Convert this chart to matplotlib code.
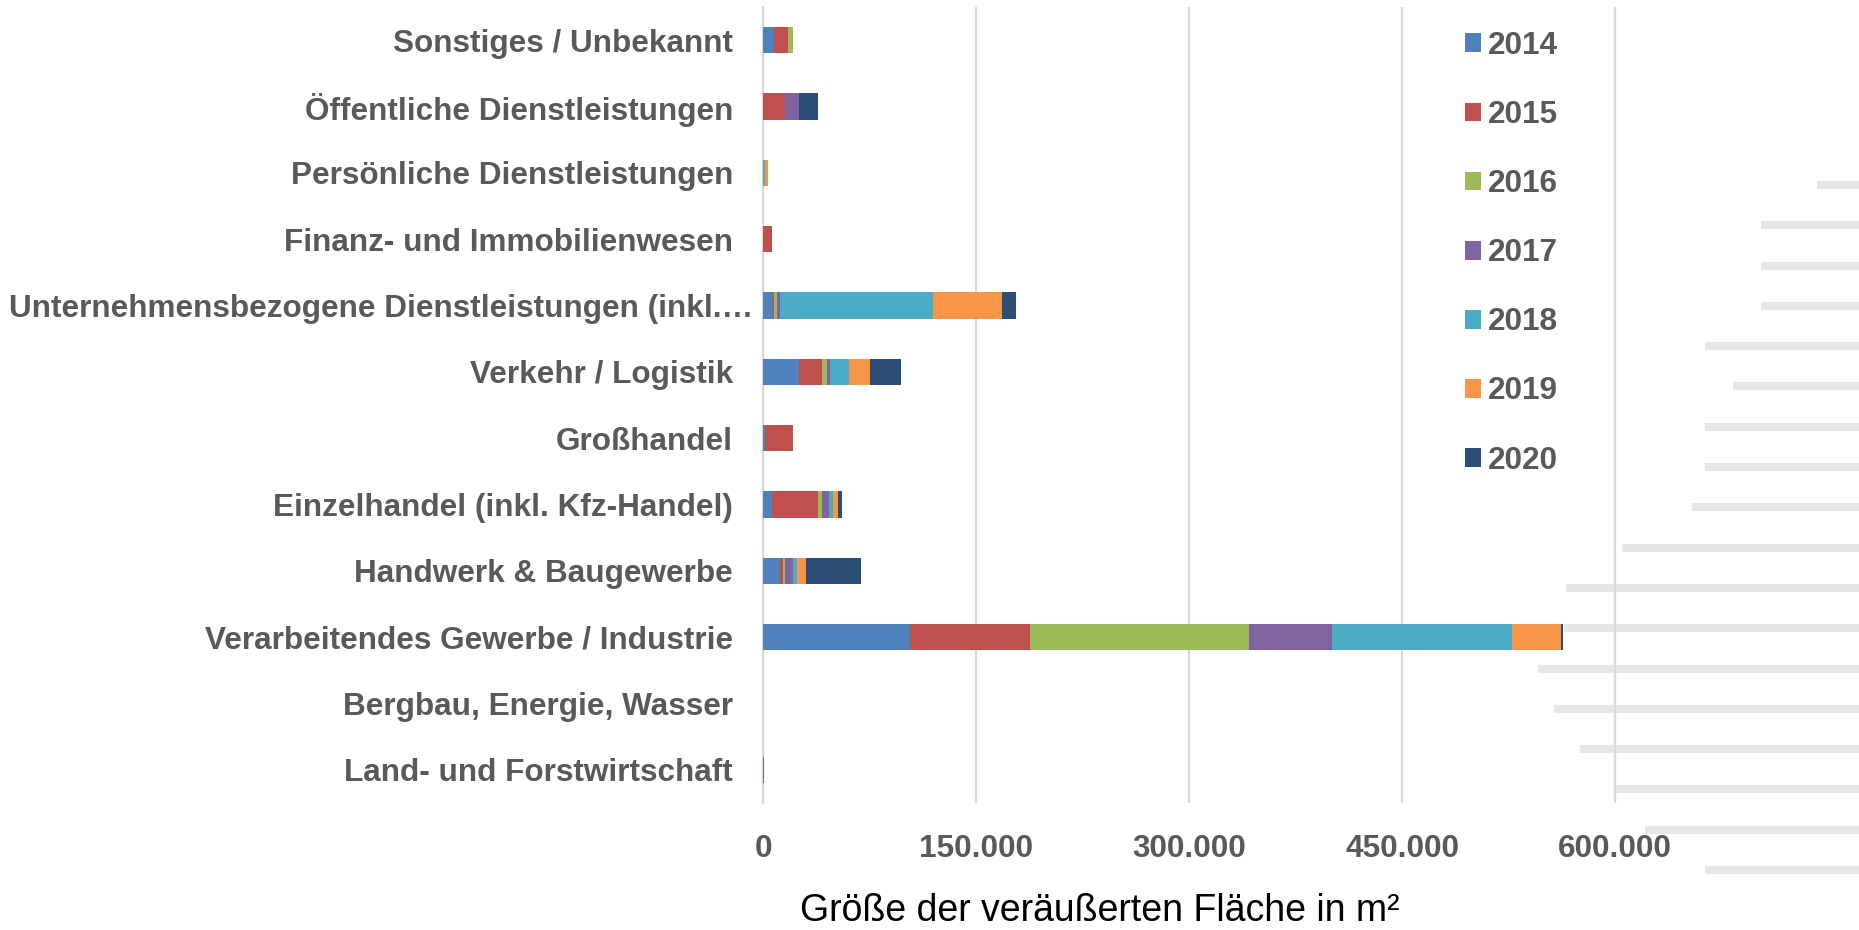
import matplotlib
matplotlib.use('Agg')
import matplotlib.pyplot as plt
from matplotlib.lines import Line2D
from matplotlib.ticker import FuncFormatter
from matplotlib.transforms import blended_transform_factory
import numpy as np

categories = ['Land- und Forstwirtschaft', 'Bergbau, Energie, Wasser',
              'Verarbeitendes Gewerbe / Industrie', 'Handwerk & Baugewerbe',
              'Einzelhandel (inkl. Kfz-Handel)', 'Großhandel', 'Verkehr / Logistik',
              'Unternehmensbezogene Dienstleistungen (inkl.…', 'Finanz- und Immobilienwesen',
              'Persönliche Dienstleistungen', 'Öffentliche Dienstleistungen', 'Sonstiges / Unbekannt']
years = ['2014', '2015', '2016', '2017', '2018', '2019', '2020']
v2014 = [0, 0, 103200, 12000, 6300, 1600, 25300, 7000, 0, 0, 0, 7500]
v2015 = [0, 0, 84900, 2100, 32200, 19500, 16000, 900, 6600, 0, 15300, 10000]
v2016 = [0, 0, 154100, 1600, 3000, 0, 3500, 2100, 0, 0, 0, 3300]
v2017 = [700, 0, 58200, 5400, 4700, 0, 2300, 2100, 0, 0, 10300, 0]
v2018 = [0, 0, 127200, 2800, 3000, 0, 13800, 107500, 0, 1200, 0, 0]
v2019 = [0, 0, 34700, 6300, 3300, 0, 14100, 49000, 0, 2100, 0, 0]
v2020 = [0, 0, 1200, 39000, 3300, 0, 22100, 9900, 0, 0, 12900, 0]
series = [v2014, v2015, v2016, v2017, v2018, v2019, v2020]
colors = ['#4F81BD', '#C0504D', '#9BBB59', '#8064A2', '#4BACC6', '#F79646', '#2C4D75']

# faint stray stripes on the right of the original image (pixel rows / start columns)
stripe_y = [185, 225, 266, 306, 346, 386, 427, 467, 507, 548, 588, 628, 669, 709, 749, 789, 830, 870]
stripe_x0 = [1817, 1761, 1761, 1761, 1705, 1733, 1705, 1705, 1692, 1622, 1566, 1564, 1538, 1554,
             1580, 1615, 1645, 1705]

W, H = 1859, 930
plt.rcParams['font.family'] = ['Liberation Sans', 'DejaVu Sans']
grey = '#595959'

fig = plt.figure(figsize=(W / 100, H / 100), dpi=100, facecolor='white')
ax = fig.add_axes([763 / W, 1 - 803 / H, 923 / W, 796 / H])
ax.patch.set_facecolor('none')

for y, x0 in zip(stripe_y, stripe_x0):
    fig.add_artist(Line2D([x0 / W, 1], [1 - y / H, 1 - y / H], transform=fig.transFigure,
                          color='#E7E7E7', lw=5.8, solid_capstyle='butt', zorder=-5))

ypos = np.arange(len(categories))
left = np.zeros(len(categories))
for year, vals, col in zip(years, series, colors):
    ax.barh(ypos, vals, left=left, height=0.4, color=col, label=year, linewidth=0, zorder=3)
    left += np.array(vals)

ax.set_xlim(0, 650000)
ax.set_ylim(-0.5, len(categories) - 0.5)
ax.set_xticks([0, 150000, 300000, 450000, 600000])
ax.xaxis.set_major_formatter(FuncFormatter(lambda x, p: f'{x:,.0f}'.replace(',', '.')))

# the truncated long label starts at the left edge like in the original, the rest are right aligned
long_label = 'Unternehmensbezogene Dienstleistungen (inkl.…'
ax.set_yticks(ypos)
ax.set_yticklabels(['' if c == long_label else c for c in categories])
trans = blended_transform_factory(fig.transFigure, ax.transData)
ax.text(9 / W, categories.index(long_label), long_label, transform=trans, ha='left',
        va='center_baseline', fontsize=22.7, fontweight='bold', color=grey)

ax.tick_params(axis='y', length=0, pad=21.6, labelsize=22.7, labelcolor=grey)
ax.tick_params(axis='x', length=0, pad=22, labelsize=22.7, labelcolor=grey)
for lab in ax.get_xticklabels() + ax.get_yticklabels():
    lab.set_fontweight('bold')

ax.grid(axis='x', color='#D9D9D9', lw=1.6, zorder=0)
ax.set_axisbelow(True)
for s in ['top', 'right', 'bottom']:
    ax.spines[s].set_visible(False)
ax.spines['left'].set_color('#D9D9D9')
ax.spines['left'].set_linewidth(1.6)

ax.legend(loc='upper left', bbox_to_anchor=(1465 / W, 1 - 31 / H), bbox_transform=fig.transFigure,
          frameon=False, prop={'size': 22.7, 'weight': 'bold'}, labelcolor=grey,
          handlelength=0.51, handleheight=0.54, handletextpad=0.22, labelspacing=1.24,
          borderpad=0, borderaxespad=0)

fig.text(1100 / W, 9 / H, 'Größe der veräußerten Fläche in m²', ha='center', va='baseline',
         fontsize=27, color='black')

fig.savefig('out.png', dpi=100)
